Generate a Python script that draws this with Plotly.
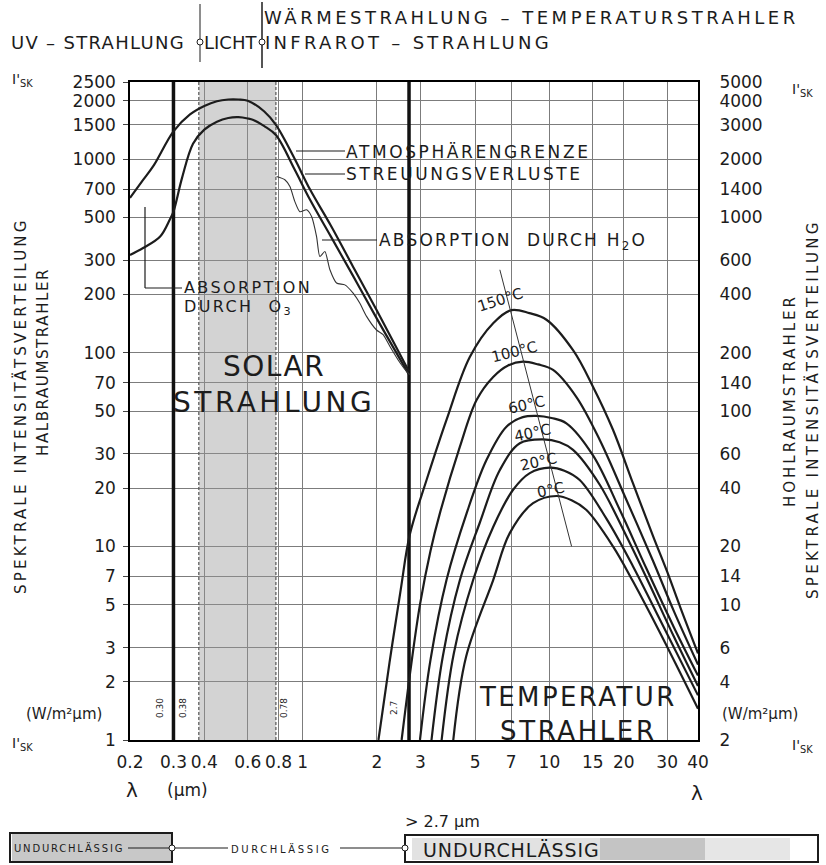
import math
import plotly.graph_objects as go

# ------------------------------------------------------------------ data
X_TICKS = [0.2, 0.3, 0.4, 0.6, 0.8, 1, 2, 3, 5, 7, 10, 15, 20, 30, 40]
X_TICK_TEXT = ["0.2", "0.3", "0.4", "0.6", "0.8", "1", "2", "3", "5", "7",
               "10", "15", "20", "30", "40"]
Y_TICKS = [1, 2, 3, 5, 7, 10, 20, 30, 50, 70, 100, 200, 300, 500, 700,
           1000, 1500, 2000, 2500]
Y2_TICKS = [2, 4, 6, 10, 14, 20, 40, 60, 100, 140, 200, 400, 600, 1000,
            1400, 2000, 3000, 4000, 5000]

# solar radiation at the limit of the atmosphere
ATM_X = [0.2, 0.226, 0.25, 0.3, 0.35, 0.4, 0.45, 0.5, 0.55, 0.6, 0.7, 0.78,
         0.93, 1.07, 1.3, 1.6, 2.0, 2.7]
ATM_Y = [630, 780, 930, 1390, 1700, 1880, 1990, 2030, 2030, 2000, 1760, 1500,
         1000, 700, 455, 279, 165, 80]
# after scattering losses
SCAT_X = [0.2, 0.226, 0.265, 0.29, 0.3, 0.325, 0.36, 0.4, 0.45, 0.5, 0.55,
          0.6, 0.632, 0.7, 0.78, 0.93, 1.07, 1.3, 1.6, 2.0, 2.7]
SCAT_Y = [320, 347, 398, 487, 535, 800, 1200, 1420, 1560, 1630, 1645, 1620,
          1592, 1480, 1330, 880, 620, 400, 250, 150, 77]
# after absorption by H2O
H2O_X = [0.785, 0.848, 0.889, 0.931, 0.975, 1.039, 1.088, 1.14, 1.175, 1.232,
         1.291, 1.373, 1.484, 1.603, 1.707, 1.817, 1.994, 2.121, 2.257, 2.478,
         2.64, 2.72]
H2O_Y = [812, 782, 721, 603, 535, 547, 505, 398, 314, 333, 268, 229, 224, 203,
         180, 154, 131, 124, 108, 89, 80, 77]

# temperature radiators
T150_X = [2.03, 2.25, 2.5, 2.72, 3.18, 3.83, 4.76, 5.92, 7.02, 8.3, 9.73,
          12.47, 15.0, 18.1, 21.8, 26.3, 30, 34, 40]
T150_Y = [1.0, 2.5, 6.0, 11.5, 22, 45, 95, 142, 166, 160, 148, 103, 67, 40,
          21.2, 11.3, 7.4, 4.8, 2.8]
T100_X = [2.52, 2.75, 2.99, 3.3, 3.6, 4.34, 5.07, 5.92, 6.8, 7.82, 9.0, 10.35,
          12.87, 16.0, 20.5, 26.3, 32, 40]
T100_Y = [1.0, 2.4, 5.0, 9.5, 14.8, 32.7, 57, 75, 86, 90, 87, 81.5, 59, 35.4,
          17.4, 8.4, 4.6, 2.45]
T60_X = [2.99, 3.3, 3.83, 4.62, 5.56, 6.70, 7.8, 8.87, 10.2, 11.72, 15.02,
         19.26, 24.7, 32, 40]
T60_Y = [1.0, 2.6, 6.7, 14.8, 27.9, 41.5, 46.5, 47.2, 46, 43.2, 29.5, 15.5,
         7.7, 3.8, 2.15]
T40_X = [3.33, 3.7, 4.34, 5.22, 6.30, 7.59, 9.43, 11.0, 12.47, 16.0, 20.5,
         24.7, 32, 40]
T40_Y = [1.0, 2.7, 6.7, 13.2, 24.8, 34.1, 35.7, 34.5, 31.5, 20.8, 11.3, 6.9,
         3.4, 1.9]
T20_X = [3.66, 4.1, 4.91, 5.92, 7.13, 8.33, 10.03, 11.5, 13.27, 17.02, 21.8,
         28, 40]
T20_Y = [1.0, 2.8, 6.7, 12.6, 19.6, 23.9, 25.5, 24.6, 22.0, 13.9, 7.9, 4.2,
         1.7]
T0_X = [4.08, 4.6, 5.92, 6.91, 8.59, 10.68, 12.3, 14.13, 18.1, 21.8, 28, 40]
T0_Y = [1.0, 2.7, 6.7, 11.7, 16.7, 18.2, 17.3, 15.4, 10.0, 6.6, 3.6, 1.45]

WIEN_X = [6.3, 12.3]
WIEN_Y = [268, 10]

BOUND_LINES = [0.30, 2.7]          # thick limits
BAND = [0.38, 0.78]                # visible light band
BAND_LABELS = ["0.30", "0.38", "0.78", "2.7"]

# ------------------------------------------------------------------ style
FONT = "DejaVu Sans, sans-serif"
INK = "#1c1c1c"
GRID = "#7c7c7c"
W, H = 826, 865
L, R, T, B = 130, 698, 82, 740


def px(x):
    return (x - L) / (R - L)


def py(y):
    return (B - y) / (B - T)


def sp(text, ls):
    return f'<span style="letter-spacing:{ls}px">{text}</span>'


fig = go.Figure()

# visible band
fig.add_trace(go.Scatter(x=[BAND[0], BAND[1], BAND[1], BAND[0], BAND[0]],
                         y=[1, 1, 2500, 2500, 1], mode="lines",
                         line=dict(width=0), fill="toself",
                         fillcolor="rgba(150,150,150,0.42)", hoverinfo="skip"))
for xb in BAND:
    fig.add_trace(go.Scatter(x=[xb, xb], y=[1, 2500], mode="lines",
                             line=dict(color="#555", width=1.2, dash="3px,2px"),
                             hoverinfo="skip"))
for xb in BOUND_LINES:
    fig.add_trace(go.Scatter(x=[xb, xb], y=[1, 2500], mode="lines",
                             line=dict(color="#111", width=3.5), hoverinfo="skip"))

curve = dict(color=INK, width=2.2, shape="spline", smoothing=1.0)
fig.add_trace(go.Scatter(x=ATM_X, y=ATM_Y, mode="lines", line=curve))
fig.add_trace(go.Scatter(x=SCAT_X, y=SCAT_Y, mode="lines", line=curve))
fig.add_trace(go.Scatter(x=H2O_X, y=H2O_Y, mode="lines",
                         line=dict(color="#333", width=1.1, shape="spline",
                                   smoothing=0.6)))
for tx, ty in [(T150_X, T150_Y), (T100_X, T100_Y), (T60_X, T60_Y),
               (T40_X, T40_Y), (T20_X, T20_Y), (T0_X, T0_Y)]:
    fig.add_trace(go.Scatter(x=tx, y=ty, mode="lines", line=curve))
fig.add_trace(go.Scatter(x=WIEN_X, y=WIEN_Y, mode="lines",
                         line=dict(color="#333", width=1)))
# dummy trace for the right axis
fig.add_trace(go.Scatter(x=[0.2], y=[2], yaxis="y2", mode="markers",
                         marker=dict(opacity=0), hoverinfo="skip"))

# ------------------------------------------------------------------ axes
fig.update_layout(
    width=W, height=H,
    margin=dict(l=L, r=W - R, t=T, b=H - B),
    paper_bgcolor="white", plot_bgcolor="white", showlegend=False,
    font=dict(family=FONT, color=INK, size=17),
    xaxis=dict(type="log", range=[math.log10(0.2), math.log10(40)],
               tickvals=X_TICKS, ticktext=X_TICK_TEXT, showgrid=True,
               gridcolor=GRID, gridwidth=1.2, showline=True, mirror=True,
               linecolor="black", linewidth=1.5, ticks="outside", ticklen=6,
               tickcolor="rgba(0,0,0,0)", zeroline=False,
               tickfont=dict(size=17)),
    yaxis=dict(type="log", range=[0, math.log10(2500)], tickvals=Y_TICKS,
               ticktext=[str(v) for v in Y_TICKS], showgrid=True,
               gridcolor=GRID, gridwidth=1.2, showline=True, mirror=True,
               linecolor="black", linewidth=1.5, ticks="outside", ticklen=5,
               tickcolor="#444", zeroline=False, tickfont=dict(size=17),
               ticklabelstandoff=4),
    yaxis2=dict(type="log", overlaying="y", side="right",
                range=[math.log10(2), math.log10(5000)], tickvals=Y2_TICKS,
                ticktext=[str(v) for v in Y2_TICKS], showgrid=False,
                showline=False, ticks="outside", ticklen=17,
                tickcolor="rgba(0,0,0,0)", zeroline=False,
                tickfont=dict(size=17)),
)

# ------------------------------------------------------------------ shapes
shapes = []


def line(x0, y0, x1, y1, w=1.2, color=INK, dash=None):
    shapes.append(dict(type="line", xref="paper", yref="paper",
                       x0=px(x0), y0=py(y0), x1=px(x1), y1=py(y1),
                       line=dict(color=color, width=w, dash=dash)))


def rect(x0, y0, x1, y1, fill="rgba(0,0,0,0)", lw=0, lc=INK):
    shapes.append(dict(type="rect", xref="paper", yref="paper",
                       x0=px(x0), y0=py(y1), x1=px(x1), y1=py(y0),
                       fillcolor=fill, line=dict(color=lc, width=lw)))


def dot(cx, cy, r=3):
    shapes.append(dict(type="circle", xref="paper", yref="paper",
                       x0=px(cx - r), y0=py(cy + r), x1=px(cx + r), y1=py(cy - r),
                       fillcolor="white", line=dict(color=INK, width=1)))


# header separators
line(200, 4, 200, 62, 1)
line(262, 2, 262, 68, 1.5)
dot(200, 42)
dot(262, 42)
# leader lines
line(296, 151, 345, 151)
line(305, 174, 345, 174)
line(322, 240, 377, 240)
line(145, 207, 145, 288)
line(145, 288, 182, 288)
# bottom bar
rect(12, 834, 172, 861, fill="#c8c8c8")
rect(412, 838, 600, 860, fill="#e2e2e2")
rect(600, 838, 705, 860, fill="#c4c4c4")
rect(705, 838, 790, 860, fill="#e6e6e6")
rect(10, 833, 172, 862, lw=2)
rect(405, 835, 818, 862, lw=2)
line(128, 848, 228, 848)
line(340, 848, 405, 848)
dot(172, 848)
dot(405, 848)
fig.update_layout(shapes=shapes)

# ------------------------------------------------------------------ texts
anns = []


def ann(text, x, y, size=16, xanchor="center", angle=0, color=INK, bg=None):
    d = dict(text=text, xref="paper", yref="paper", x=px(x), y=py(y),
             showarrow=False, xanchor=xanchor, yanchor="middle",
             textangle=angle, font=dict(size=size, color=color, family=FONT))
    if bg:
        d["bgcolor"] = bg
    anns.append(d)


ann(sp("WÄRMESTRAHLUNG – TEMPERATURSTRAHLER", 3.5), 262, 18, 18, "left")
ann(sp("UV – STRAHLUNG", 1.3), 9, 42, 18, "left")
ann("LICHT", 202, 42, 18, "left")
ann(sp("INFRAROT – STRAHLUNG", 3.3), 263, 42, 18, "left")

ann("I'<sub>SK</sub>", 10, 80, 14, "left")
ann("I'<sub>SK</sub>", 10, 744, 14, "left")
ann("I'<sub>SK</sub>", 790, 90, 14, "left")
ann("I'<sub>SK</sub>", 790, 746, 14, "left")
ann("(W/m²µm)", 64, 714, 15)
ann("(W/m²µm)", 760, 714, 15)
ann(sp("SPEKTRALE INTENSITÄTSVERTEILUNG", 3.2), 20, 406, 15, angle=-90)
ann(sp("HALBRAUMSTRAHLER", 1.6), 43, 362, 15, angle=-90)
ann(sp("HOHLRAUMSTRAHLER", 3.0), 790, 401, 15, angle=-90)
ann(sp("SPEKTRALE INTENSITÄTSVERTEILUNG", 3.3), 812, 409, 15, angle=-90)

ann("λ", 132, 790, 20)
ann("(µm)", 187, 790, 17)
ann("λ", 697, 793, 20)

ann(sp("ATMOSPHÄRENGRENZE", 2.6), 344, 152, 17, "left")
ann(sp("STREUUNGSVERLUSTE", 2.6), 344, 174, 17, "left")
ann(sp("ABSORPTION  DURCH H<sub>2</sub>O", 2.2), 377, 241, 17, "left")
ann(sp("ABSORPTION", 2.4), 182, 287, 16, "left")
ann(sp("DURCH  O<sub>3</sub>", 2.4), 182, 307, 16, "left")
ann(sp("SOLAR", 1.5) + "<br>" + sp("STRAHLUNG", 3.5), 274, 384, 28)
ann(sp("TEMPERATUR", 2.4) + "<br>" + sp("STRAHLER", 2.6), 578, 714, 26)

for lab, x, y, ang in [("150°C", 500, 300, -18), ("100°C", 514, 352, -14),
                       ("60°C", 526, 405, -12), ("40°C", 532, 433, -12),
                       ("20°C", 538, 462, -12), ("0°C", 551, 490, -12)]:
    ann(lab, x, y, 15, angle=ang)

for lab, x in zip(BAND_LABELS, [160, 183, 284, 394]):
    ann(lab, x, 708, 9, angle=-90)

ann("> 2.7 µm", 403, 821, 16, "left")
ann(sp("UNDURCHLÄSSIG", 1.8), 12, 848, 10, "left")
ann(sp("DURCHLÄSSIG", 2.6), 229, 849, 10, "left")
ann(sp("UNDURCHLÄSSIG", 0.9), 421, 850, 19, "left")

fig.update_layout(annotations=anns)
fig.write_html("out.html",
               config={"displayModeBar": False},
               post_script="document.body.style.margin='0px';"
                           "document.body.style.overflow='hidden';")
